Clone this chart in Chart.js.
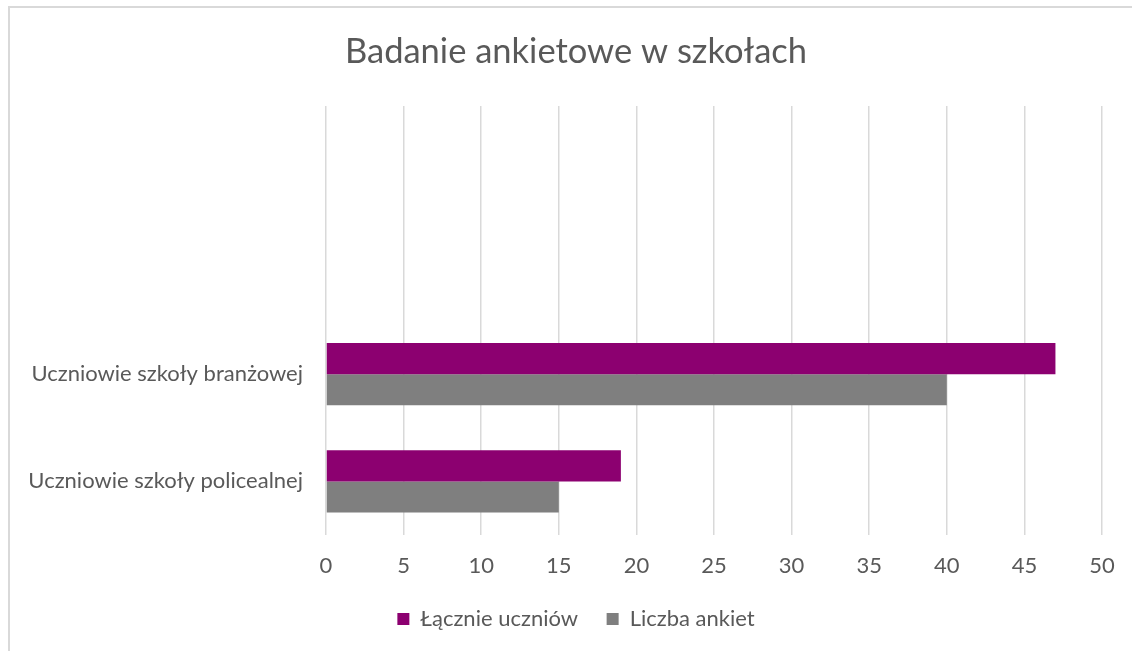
<!DOCTYPE html>
<html>
<head>
<meta charset="utf-8">
<script src="https://cdn.jsdelivr.net/npm/chart.js@4"></script>
<style>
  html, body { margin: 0; padding: 0; background: #fff; overflow: hidden; }
  .frame { position: absolute; left: 8px; top: 6px; width: 1200px; height: 700px; border: 2px solid #d9d9d9; box-sizing: border-box; }
  .wrap { position: absolute; left: 0; top: 0; width: 1182px; height: 651px; }
</style>
</head>
<body>
<div class="frame"></div>
<div class="wrap"><canvas id="chart" width="1182" height="651"></canvas></div>
<script>
// categories (top to bottom), two empty slots above like in the original
const categories = ["", " ", "Uczniowie szkoły branżowej", "Uczniowie szkoły policealnej"];
const totalStudents = [null, null, 47, 19];
const surveys = [null, null, 40, 15];
const xTicks = [0, 5, 10, 15, 20, 25, 30, 35, 40, 45, 50];

const textColor = "#595959";
Chart.defaults.font.family = "Lato, 'Open Sans', sans-serif";
Chart.defaults.color = textColor;

const canvas = document.getElementById("chart");

new Chart(canvas.getContext("2d"), {
  type: "bar",
  data: {
    labels: categories,
    datasets: [
      {
        label: "Łącznie uczniów",
        data: totalStudents,
        backgroundColor: "#8C0070",
        categoryPercentage: 0.58,
        barPercentage: 1.0,
      },
      {
        label: "Liczba ankiet",
        data: surveys,
        backgroundColor: "#7F7F7F",
        categoryPercentage: 0.58,
        barPercentage: 1.0,
      },
    ],
  },
  options: {
    indexAxis: "y",
    responsive: false,
    animation: false,
    layout: { padding: { left: 0, right: 30, top: 0, bottom: 11 } },
    plugins: {
      title: {
        display: true,
        text: "Badanie ankietowe w szkołach",
        color: textColor,
        font: { size: 34.5, weight: "normal" },
        padding: { top: 31.3, bottom: 33.3 },
      },
      legend: {
        position: "bottom",
        labels: {
          color: textColor,
          font: { size: 22 },
          boxWidth: 12,
          boxHeight: 12,
          padding: 28.6,
        },
      },
      tooltip: { enabled: false },
    },
    scales: {
      x: {
        min: 0,
        max: 50,
        afterBuildTicks: (scale) => {
          scale.ticks = xTicks.map((v) => ({ value: v }));
        },
        afterFit: (scale) => {
          scale.height = 44.4;
        },
        grid: { color: "#d9d9d9", lineWidth: 1.5, drawTicks: false },
        border: { display: false },
        ticks: { font: { size: 22 }, padding: 17.8, color: textColor, maxRotation: 0 },
      },
      y: {
        grid: { display: false, drawTicks: false },
        border: { display: false },
        afterFit: (scale) => {
          scale.width = 326;
        },
        ticks: { font: { size: 22 }, padding: 23, color: textColor },
      },
      // empty spacer on the right so title and legend sit centred like the original
      y2: {
        type: "category",
        axis: "y",
        position: "right",
        grid: { display: false, drawTicks: false },
        border: { display: false },
        ticks: { display: false },
        afterFit: (scale) => {
          scale.width = 50;
        },
      },
    },
  },
});
</script>
</body>
</html>
